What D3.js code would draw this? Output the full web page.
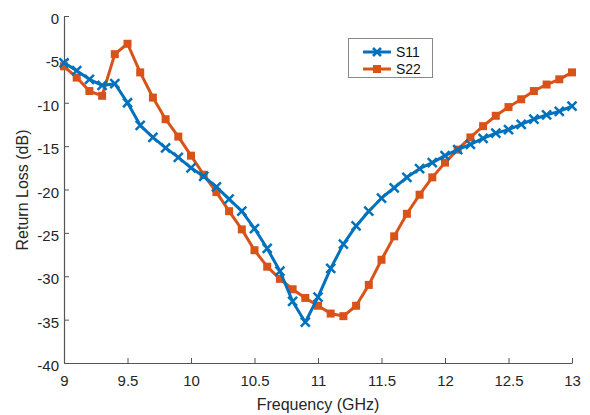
<!DOCTYPE html>
<html>
<head>
<meta charset="utf-8">
<script src="https://cdn.jsdelivr.net/npm/d3@7"></script>
<style>
body { margin: 0; background: #fff; }
svg { font-family: "Liberation Sans", Arial, sans-serif; }
</style>
</head>
<body>
<svg id="chart" width="590" height="415"></svg>
<script>
// frequency points (GHz)
var freq = d3.range(41).map(function(i){ return +(9 + i * 0.1).toFixed(1); });

var s11 = [-5.4, -6.3, -7.3, -8.0, -7.8, -10.0, -12.6, -14.0, -15.2, -16.3,
	-17.5, -18.5, -19.7, -21.1, -22.5, -24.5, -26.8, -29.4, -32.9, -35.3,
	-32.4, -29.1, -26.3, -24.2, -22.5, -21.0, -19.8, -18.6, -17.6, -16.9,
	-16.1, -15.4, -14.8, -14.1, -13.5, -13.1, -12.5, -11.9, -11.4, -11.0, -10.4];

var s22 = [-5.8, -7.1, -8.65, -9.2, -4.4, -3.2, -6.5, -9.4, -11.9, -13.9,
	-16.1, -18.3, -20.3, -22.5, -24.6, -27.0, -28.9, -30.3, -31.5, -32.5,
	-33.4, -34.3, -34.6, -33.4, -31.0, -28.1, -25.4, -22.8, -20.6, -18.6,
	-16.9, -15.4, -14.0, -12.7, -11.5, -10.5, -9.6, -8.65, -7.9, -7.3, -6.5];

var xTicks = [9, 9.5, 10, 10.5, 11, 11.5, 12, 12.5, 13];
var yTicks = [0, -5, -10, -15, -20, -25, -30, -35, -40];

var blue = "#0072BD", orange = "#D95319";

var svg = d3.select("#chart");

var x = d3.scaleLinear().domain([9, 13]).range([64, 572]);
var y = d3.scaleLinear().domain([-40, 0]).range([363, 16]);

//AXES
var xAxis = d3.axisBottom(x).tickValues(xTicks).tickSizeInner(-5).tickSizeOuter(0).tickPadding(12)
	.tickFormat(function(d){ return d; });
var yAxis = d3.axisLeft(y).tickValues(yTicks).tickSizeInner(-5).tickSizeOuter(0).tickPadding(5)
	.tickFormat(function(d){ return d; });

var gx = svg.append("g").attr("transform", "translate(0,363)").call(xAxis);
var gy = svg.append("g").attr("transform", "translate(64,0)").call(yAxis);

[gx, gy].forEach(function(g){
	g.select(".domain").attr("stroke", "#555").attr("stroke-width", 1.2);
	g.selectAll(".tick line").attr("stroke", "#555");
	g.selectAll(".tick text").attr("fill", "#262626").style("font-size", "15px");
});
gy.selectAll(".tick text").attr("dy", "0.5em");

svg.append("text")
	.attr("x", 318).attr("y", 410)
	.attr("text-anchor", "middle")
	.attr("fill", "#262626")
	.style("font-size", "16px")
	.text("Frequency (GHz)");

svg.append("text")
	.attr("transform", "translate(28,190) rotate(-90)")
	.attr("text-anchor", "middle")
	.attr("fill", "#262626")
	.style("font-size", "16px")
	.text("Return Loss (dB)");

//LINES
var line = d3.line()
	.x(function(d){ return x(d[0]); })
	.y(function(d){ return y(d[1]); });

function series(vals){
	return freq.map(function(f, i){ return [f, vals[i]]; });
}

var d11 = series(s11), d22 = series(s22);

svg.append("path").datum(d22)
	.attr("d", line).attr("fill", "none")
	.attr("stroke", orange).attr("stroke-width", 3).attr("stroke-linejoin", "round");

svg.append("g").selectAll("rect").data(d22).enter()
	.append("rect")
	.attr("x", function(d){ return x(d[0]) - 4; })
	.attr("y", function(d){ return y(d[1]) - 4; })
	.attr("width", 8).attr("height", 8)
	.attr("fill", orange);

svg.append("path").datum(d11)
	.attr("d", line).attr("fill", "none")
	.attr("stroke", blue).attr("stroke-width", 3).attr("stroke-linejoin", "round");

function cross(cx, cy, r){
	return "M" + (cx - r) + "," + (cy - r) + "L" + (cx + r) + "," + (cy + r) +
		"M" + (cx - r) + "," + (cy + r) + "L" + (cx + r) + "," + (cy - r);
}

svg.append("g").selectAll("path").data(d11).enter()
	.append("path")
	.attr("d", function(d){ return cross(x(d[0]), y(d[1]), 4.5); })
	.attr("stroke", blue).attr("stroke-width", 2.5).attr("fill", "none");

//LEGEND
var leg = svg.append("g");
leg.append("rect")
	.attr("x", 348.5).attr("y", 38.5).attr("width", 84).attr("height", 39)
	.attr("fill", "#fff").attr("stroke", "#888").attr("stroke-width", 1);

leg.append("line").attr("x1", 363).attr("x2", 391).attr("y1", 52).attr("y2", 52)
	.attr("stroke", blue).attr("stroke-width", 3);
leg.append("path").attr("d", cross(377, 52, 4)).attr("stroke", blue).attr("stroke-width", 2.5);
leg.append("text").attr("x", 396).attr("y", 57).attr("fill", "#111").style("font-size", "14px").text("S11");

leg.append("line").attr("x1", 363).attr("x2", 391).attr("y1", 69).attr("y2", 69)
	.attr("stroke", orange).attr("stroke-width", 3);
leg.append("rect").attr("x", 373).attr("y", 65).attr("width", 8).attr("height", 8).attr("fill", orange);
leg.append("text").attr("x", 396).attr("y", 74).attr("fill", "#111").style("font-size", "14px").text("S22");
</script>
</body>
</html>
